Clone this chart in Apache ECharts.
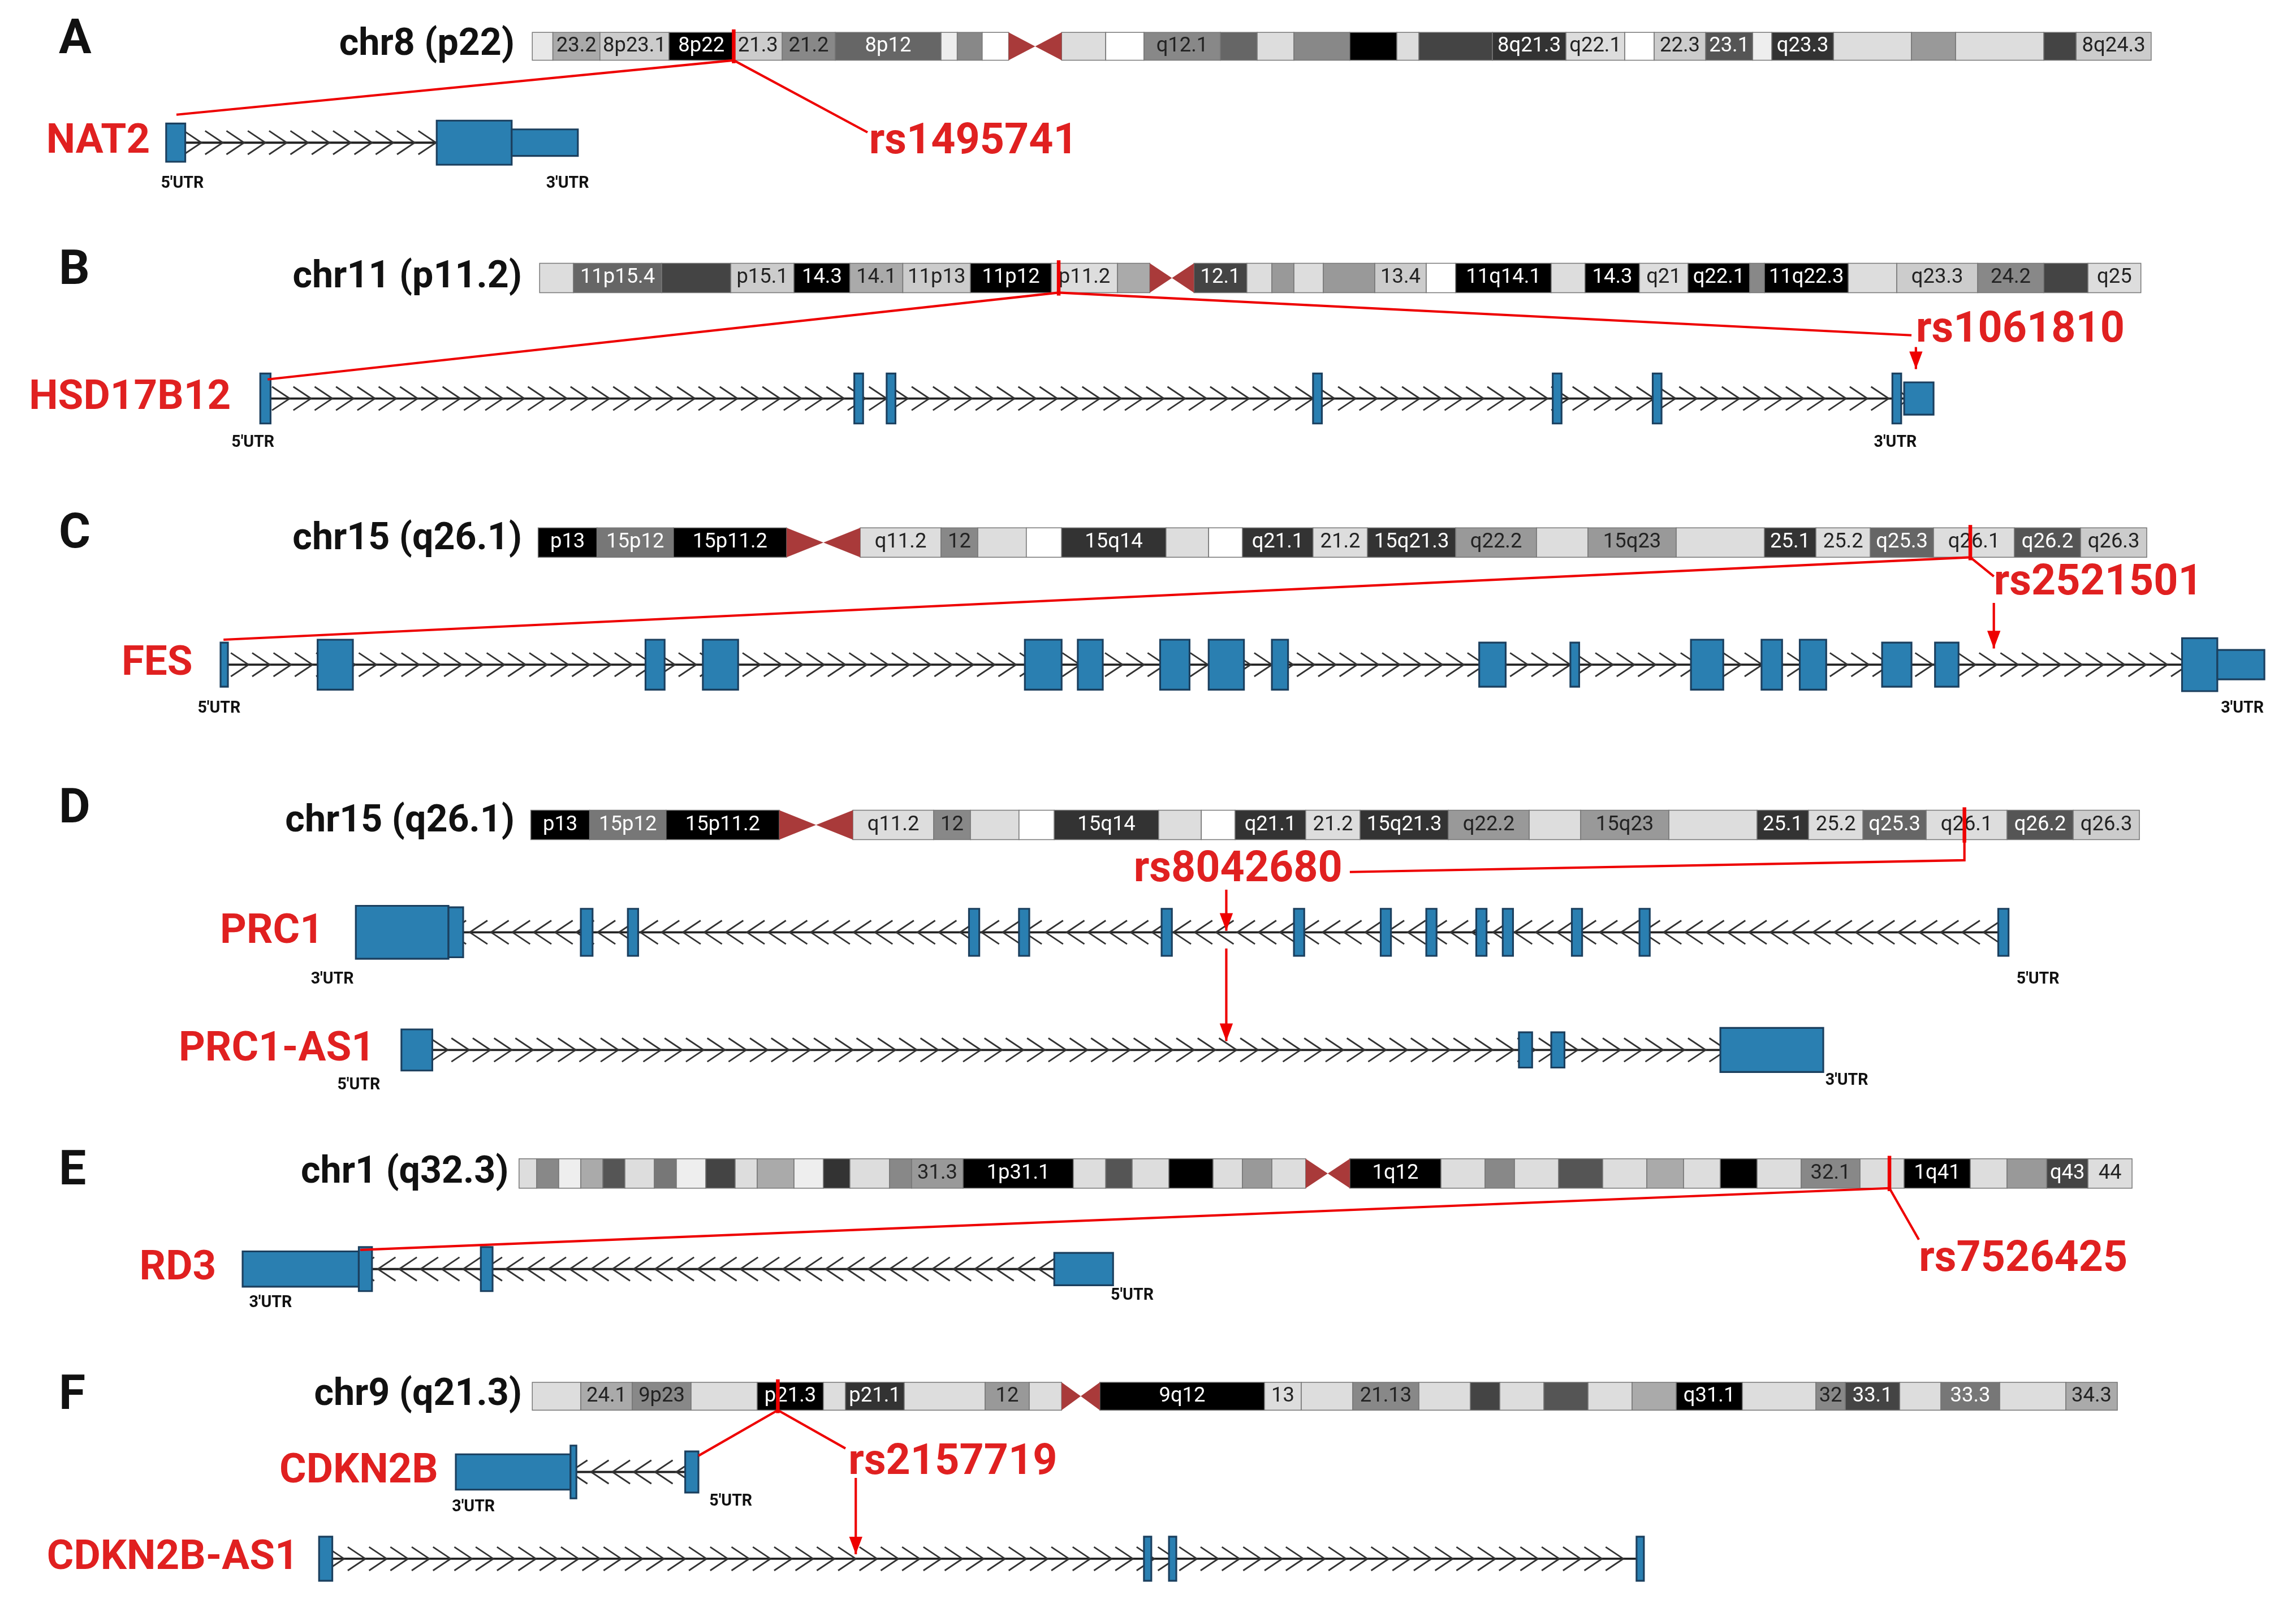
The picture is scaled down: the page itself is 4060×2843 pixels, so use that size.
<!DOCTYPE html><html><head><meta charset="utf-8">
<script src="https://cdn.jsdelivr.net/npm/echarts@6/dist/echarts.min.js"></script>
<style>html,body{margin:0;background:#fff}#c{width:4060px;height:2843px}</style></head><body><div id="c"></div><script>
// ---- data (preview-pixel coordinates of the figure, 1px = 2.6 screen px) ----
const panelLetters = [["A",40,28],["B",40,185],["C",40,364],["D",40,551],["E",40,797],["F",40,950]];
const chromLabels = [["chr8 (p22)",350,31],["chr11 (p11.2)",355,189],["chr15 (q26.1)",355,367],["chr15 (q26.1)",350,559],["chr1 (q32.3)",346,798],["chr9 (q21.3)",355,949]];
// ideogram bands: [x0,x1,color,label]
const bandsA = [[362,376,'#e8e8e8'],[376,408,'#aaa','23.2'],[408,455,'#ccc','8p23.1'],[455,499,'#000','8p22'],[499,532,'#ccc','21.3'],[532,568,'#888','21.2'],[568,640,'#666','8p12'],[640,651,'#eee'],[651,668,'#888'],[668,686,'#fff'],[722,752,'#ddd'],[752,778,'#fff'],[778,830,'#888','q12.1'],[830,855,'#666'],[855,880,'#ddd'],[880,918,'#888'],[918,950,'#000'],[950,965,'#ddd'],[965,1015,'#444'],[1015,1065,'#333','8q21.3'],[1065,1105,'#ddd','q22.1'],[1105,1125,'#fff'],[1125,1160,'#ccc','22.3'],[1160,1192,'#555','23.1'],[1192,1205,'#eee'],[1205,1247,'#333','q23.3'],[1247,1300,'#ddd'],[1300,1330,'#999'],[1330,1390,'#ddd'],[1390,1412,'#444'],[1412,1463,'#ccc','8q24.3']];
const bandsB = [[367,390,'#ddd'],[390,450,'#666','11p15.4'],[450,497,'#444'],[497,540,'#ccc','p15.1'],[540,578,'#000','14.3'],[578,614,'#aaa','14.1'],[614,660,'#ccc','11p13'],[660,715,'#000','11p12'],[715,760,'#ddd','p11.2'],[760,782,'#aaa'],[812,848,'#444','12.1'],[848,865,'#ddd'],[865,880,'#999'],[880,900,'#ddd'],[900,935,'#999'],[935,970,'#ccc','13.4'],[970,990,'#fff'],[990,1055,'#000','11q14.1'],[1055,1078,'#ddd'],[1078,1115,'#000','14.3'],[1115,1148,'#ddd','q21'],[1148,1190,'#000','q22.1'],[1190,1200,'#888'],[1200,1257,'#000','11q22.3'],[1257,1290,'#ddd'],[1290,1345,'#ccc','q23.3'],[1345,1390,'#888','24.2'],[1390,1420,'#444'],[1420,1456,'#ddd','q25']];
const bandsC = [[366,406,'#000','p13'],[406,458,'#777','15p12'],[458,535,'#000','15p11.2'],[585,640,'#ddd','q11.2'],[640,665,'#888','12'],[665,698,'#ddd'],[698,722,'#fff'],[722,793,'#333','15q14'],[793,822,'#ddd'],[822,845,'#fff'],[845,893,'#333','q21.1'],[893,930,'#ddd','21.2'],[930,990,'#333','15q21.3'],[990,1045,'#999','q22.2'],[1045,1080,'#ddd'],[1080,1140,'#999','15q23'],[1140,1200,'#ddd'],[1200,1235,'#333','25.1'],[1235,1272,'#ddd','25.2'],[1272,1315,'#666','q25.3'],[1315,1370,'#ddd','q26.1'],[1370,1415,'#555','q26.2'],[1415,1460,'#ccc','q26.3']];
const bandsD = bandsC.map(b => [b[0]-5, b[1]-5, b[2], b[3]]);
const bandsE = [[353,365,'#ddd'],[365,380,'#888'],[380,395,'#eee'],[395,410,'#aaa'],[410,425,'#555'],[425,445,'#ddd'],[445,460,'#777'],[460,480,'#eee'],[480,500,'#444'],[500,515,'#ddd'],[515,540,'#aaa'],[540,560,'#eee'],[560,578,'#333'],[578,605,'#ddd'],[605,620,'#888'],[620,655,'#999','31.3'],[655,730,'#000','1p31.1'],[730,752,'#ddd'],[752,770,'#555'],[770,795,'#ddd'],[795,825,'#000'],[825,845,'#ddd'],[845,865,'#999'],[865,888,'#ddd'],[918,980,'#000','1q12'],[980,1010,'#ddd'],[1010,1030,'#888'],[1030,1060,'#ddd'],[1060,1090,'#555'],[1090,1120,'#ddd'],[1120,1145,'#aaa'],[1145,1170,'#ddd'],[1170,1195,'#000'],[1195,1225,'#ddd'],[1225,1265,'#888','32.1'],[1265,1295,'#ddd'],[1295,1340,'#000','1q41'],[1340,1365,'#ddd'],[1365,1392,'#999'],[1392,1420,'#444','q43'],[1420,1450,'#ddd','44']];
const bandsF = [[362,395,'#ddd'],[395,430,'#aaa','24.1'],[430,470,'#888','9p23'],[470,515,'#ddd'],[515,560,'#000','p21.3'],[560,575,'#ddd'],[575,615,'#333','p21.1'],[615,670,'#ddd'],[670,700,'#999','12'],[700,722,'#ddd'],[748,860,'#000','9q12'],[860,885,'#ddd','13'],[885,920,'#ddd'],[920,965,'#888','21.13'],[965,1000,'#ddd'],[1000,1020,'#444'],[1020,1050,'#ddd'],[1050,1080,'#555'],[1080,1110,'#ddd'],[1110,1140,'#aaa'],[1140,1185,'#000','q31.1'],[1185,1235,'#ddd'],[1235,1255,'#888','32'],[1255,1292,'#444','33.1'],[1292,1320,'#ddd'],[1320,1360,'#777','33.3'],[1360,1405,'#ddd'],[1405,1440,'#aaa','34.3']];
// ideograms: [bands, yTop, yBottom, centromere x0, x1]
const ideograms = [[bandsA,22,41,686,722],[bandsB,179,199,782,812],[bandsC,359,379,535,585],[bandsD,551,571,530,580],[bandsE,788,808,888,918],[bandsF,940,959,722,748]];
const snpMarks = [[499,20,43],[720,177,201],[1340,357,381],[1336,549,573],[1285,786,810],[529,938,961]];
// genes
const geneNames = ["NAT2","HSD17B12","FES","PRC1","PRC1-AS1","RD3","CDKN2B","CDKN2B-AS1"];
const geneY = [97,271,452,634,714,863,1001,1060];
const geneX0 = [120,180,152,242,273,165,310,217];
const geneX1 = [393,1315,1540,1366,1240,757,475,1118];
const geneDir = [1,1,1,-1,1,-1,-1,1];
const geneLabelX = [102,157,131,220,255,147,298,203];
// exons per gene: [x0,x1,height]
const exons = [
 [[113,126,26],[297,348,30],[348,393,18]],
 [[177,184,34],[581,587,34],[603,609,34],[893,899,34],[1056,1062,34],[1124,1130,34],[1287,1293,34],[1295,1315,22]],
 [[150,155,30],[216,240,34],[439,452,34],[478,502,34],[697,722,34],[733,750,34],[789,809,34],[822,846,34],[865,876,34],[1006,1024,30],[1068,1074,30],[1150,1172,34],[1198,1212,34],[1224,1242,34],[1280,1300,30],[1316,1332,30],[1484,1508,36],[1508,1540,20]],
 [[242,305,36],[305,315,34],[395,403,32],[427,434,32],[659,666,32],[693,700,32],[790,797,32],[880,887,32],[939,946,32],[970,977,32],[1004,1011,32],[1022,1029,32],[1069,1076,32],[1115,1122,32],[1359,1366,32]],
 [[273,294,28],[1033,1042,24],[1055,1064,24],[1170,1240,30]],
 [[165,244,24],[244,253,30],[327,335,30],[717,757,22]],
 [[310,388,24],[388,392,36],[466,475,28]],
 [[217,226,30],[778,783,30],[795,800,30],[1113,1118,30]]
];
const utrLabels = [["5'UTR",124,125],["3'UTR",386,125],["5'UTR",172,301],["3'UTR",1289,301],["5'UTR",149,482],["3'UTR",1525,482],["3'UTR",226,666],["5'UTR",1386,666],["5'UTR",244,738],["3'UTR",1256,735],["3'UTR",184,886],["5'UTR",770,881],["3'UTR",322,1025],["5'UTR",497,1021]];
const snpLabels = [["rs1495741",662,97],["rs1061810",1374,225],["rs2521501",1427,397],["rs8042680",842,592],["rs7526425",1376,857],["rs2157719",648,995]];
const connectors = [
 [[[499,41],[120,78]],0],[[[499,41],[590,90]],0],
 [[[720,199],[182,258]],0],[[[720,199],[1300,228]],0],[[[1303,236],[1303,251]],1],
 [[[1340,379],[152,435]],0],[[[1340,379],[1356,392]],0],[[[1356,410],[1356,441]],1],
 [[[1336,571],[1336,585],[918,593]],0],[[[834,605],[834,633]],1],[[[834,645],[834,708]],1],
 [[[1285,808],[245,850]],0],[[[1285,808],[1305,843]],0],
 [[[529,959],[475,990]],0],[[[529,959],[575,985]],0],[[[582,1005],[582,1057]],1]
];

// ---- rendering ----
const W = 4060, S = W/1561.5;
const chart = echarts.init(document.getElementById('c'));
const FONT = 'Roboto';
function textEl(t,x,y,size,color,align,weight){return {type:'text',x,y,style:{text:t,fill:color,font:`${weight||'bold'} ${size*S}px ${FONT}`,textAlign:align||'left',textVerticalAlign:'middle'}};}

const bandData=[]; ideograms.forEach((g,i)=>g[0].forEach(b=>bandData.push([b[0],b[1],g[1],g[2],b[2],b[3]||''])));
const centroData = ideograms.map(g=>[g[3],g[4],g[1],g[2]]);
const geneData = geneNames.map((n,i)=>[geneX0[i],geneX1[i],geneY[i],geneDir[i],i]);
const exonData=[]; exons.forEach((ex,i)=>ex.forEach(e=>exonData.push([e[0],e[1],geneY[i],e[2]])));
function dark(c){const v=parseInt(c.slice(1,2),16);return v<8;}

chart.setOption({
 animation:false,
 grid:{left:0,right:0,top:0,bottom:0},
 xAxis:{type:'value',min:0,max:1561.5,show:false},
 yAxis:{type:'value',min:0,max:1093.5,inverse:true,show:false},
 series:[
  {type:'custom',data:bandData,renderItem:(p,api)=>{
    const a=api.coord([api.value(0),api.value(2)]),b=api.coord([api.value(1),api.value(3)]);
    const col=bandData[p.dataIndex][4],lab=bandData[p.dataIndex][5];
    const ch=[{type:'rect',shape:{x:a[0],y:a[1],width:b[0]-a[0],height:b[1]-a[1]},style:{fill:col,stroke:'#777',lineWidth:1.5}}];
    if(lab) ch.push({type:'text',x:(a[0]+b[0])/2,y:(a[1]+b[1])/2,style:{text:lab,fill:dark(col)?'#fff':'#222',font:`${14*S}px ${FONT}`,textAlign:'center',textVerticalAlign:'middle'}});
    return {type:'group',children:ch};}},
  {type:'custom',data:centroData,renderItem:(p,api)=>{
    const a=api.coord([api.value(0),api.value(2)]),b=api.coord([api.value(1),api.value(3)]);const m=(a[0]+b[0])/2,my=(a[1]+b[1])/2;
    return {type:'group',children:[
     {type:'polygon',shape:{points:[[a[0],a[1]],[m,my],[a[0],b[1]]]},style:{fill:'#a93a3a'}},
     {type:'polygon',shape:{points:[[b[0],a[1]],[m,my],[b[0],b[1]]]},style:{fill:'#a93a3a'}}]};}},
  {type:'custom',data:snpMarks,renderItem:(p,api)=>{
    const a=api.coord([api.value(0),api.value(1)]),b=api.coord([api.value(0),api.value(2)]);
    return {type:'line',shape:{x1:a[0],y1:a[1],x2:b[0],y2:b[1]},style:{stroke:'#e00',lineWidth:2.5*S}};}},
  {type:'custom',data:geneData,renderItem:(p,api)=>{
    const x0=api.value(0),x1=api.value(1),y=api.value(2),d=api.value(3);
    const a=api.coord([x0,y]),b=api.coord([x1,y]);
    const ch=[{type:'line',shape:{x1:a[0],y1:a[1],x2:b[0],y2:b[1]},style:{stroke:'#222',lineWidth:1.5*S}}];
    const step=14.5,hw=6,hh=8;
    for(let x=x0+11;x<x1-8;x+=step){
      const tip=api.coord([x+d*hw,y]),t1=api.coord([x-d*hw,y-hh]),t2=api.coord([x-d*hw,y+hh]);
      ch.push({type:'polyline',shape:{points:[t1,tip,t2]},style:{stroke:'#333',lineWidth:1.1*S,fill:null}});
    }
    return {type:'group',children:ch};}},
  {type:'custom',data:exonData,renderItem:(p,api)=>{
    const h=api.value(3)/2;const a=api.coord([api.value(0),api.value(2)-h]),b=api.coord([api.value(1),api.value(2)+h]);
    return {type:'rect',shape:{x:a[0],y:a[1],width:b[0]-a[0],height:b[1]-a[1]},style:{fill:'#2a7fb1',stroke:'#1b3f5e',lineWidth:1.2*S}};}},
  {type:'custom',data:connectors.map((c,i)=>[c[0][0][0],c[0][0][1],i]),renderItem:(p,api)=>{
    const c=connectors[p.dataIndex];const pts=c[0].map(q=>api.coord(q));
    const ch=[{type:'polyline',shape:{points:pts},style:{stroke:'#e00',lineWidth:1.6*S,fill:null}}];
    if(c[1]){const e=c[0][c[0].length-1];const t=api.coord(e),l=api.coord([e[0]-4.5,e[1]-12]),r=api.coord([e[0]+4.5,e[1]-12]);
      ch.push({type:'polygon',shape:{points:[t,l,r]},style:{fill:'#e00'}});}
    return {type:'group',children:ch};}},
  {type:'custom',data:panelLetters.map(l=>[l[1],l[2]]),renderItem:(p,api)=>{const a=api.coord([api.value(0),api.value(1)]);return textEl(panelLetters[p.dataIndex][0],a[0],a[1],33,'#111','left');}},
  {type:'custom',data:chromLabels.map(l=>[l[1],l[2]]),renderItem:(p,api)=>{const a=api.coord([api.value(0),api.value(1)]);return textEl(chromLabels[p.dataIndex][0],a[0],a[1],25.5,'#111','right');}},
  {type:'custom',data:geneNames.map((n,i)=>[geneLabelX[i],geneY[i]]),renderItem:(p,api)=>{const a=api.coord([api.value(0),api.value(1)]);return textEl(geneNames[p.dataIndex],a[0],a[1],28,'#e02020','right');}},
  {type:'custom',data:utrLabels.map(l=>[l[1],l[2]]),renderItem:(p,api)=>{const a=api.coord([api.value(0),api.value(1)]);return textEl(utrLabels[p.dataIndex][0],a[0],a[1],11,'#111','center');}},
  {type:'custom',data:snpLabels.map(l=>[l[1],l[2]]),renderItem:(p,api)=>{const a=api.coord([api.value(0),api.value(1)]);return textEl(snpLabels[p.dataIndex][0],a[0],a[1],29,'#e02020','center');}}
 ]
});
</script></body></html>
